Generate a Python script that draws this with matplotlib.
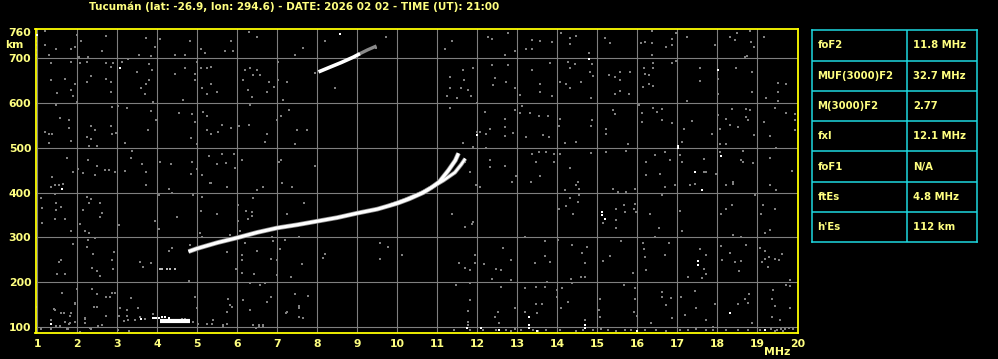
#!/usr/bin/env python3
"""Ionogram, Tucuman 2026-02-02 21:00 UT, with the scaled parameters table."""

import matplotlib
matplotlib.use("Agg")
import matplotlib.pyplot as plt
import numpy as np

TITLE = "Tucumán (lat: -26.9, lon: 294.6) - DATE: 2026 02 02 - TIME (UT): 21:00"

# scaled parameters
param_names = ["foF2", "MUF(3000)F2", "M(3000)F2", "fxI", "foF1", "ftEs", "h'Es"]
param_values = ["11.8 MHz", "32.7 MHz", "2.77", "12.1 MHz", "N/A", "4.8 MHz", "112 km"]

# axes ticks
freq_ticks = list(range(1, 21))
height_ticks = [100, 200, 300, 400, 500, 600, 700, 760]

# F2 ordinary trace (MHz, km)
f2o_f = [4.78, 5.0, 5.5, 6.0, 6.5, 7.0, 7.5, 8.0, 8.5, 9.0, 9.5, 10.0, 10.3, 10.65,
         10.85, 11.05, 11.28, 11.45, 11.53]
f2o_h = [268, 275, 288, 299, 311, 321, 328, 336, 344, 354, 363, 376, 386, 400,
         411, 424, 450, 472, 488]
# F2 extraordinary trace
f2x_f = [9.8, 10.2, 10.6, 10.9, 11.15, 11.44, 11.6, 11.7]
f2x_h = [371, 384, 399, 414, 427, 445, 463, 476]
# second hop
f2m_f = [8.03, 8.3, 8.6, 8.9, 9.07]
f2m_h = [670, 680, 691, 703, 711]
f2m_tail_f = [9.07, 9.25, 9.48]
f2m_tail_h = [711, 719, 728]
# sporadic E
es_f = [4.07, 4.81]
es_h = [113, 113]
es_dots_f = [3.95, 4.05, 4.12, 4.2, 4.3]
es_dots_h = [120, 120, 121, 121, 120]
es2_f = [4.07, 4.12, 4.25, 4.32, 4.45]
es2_h = [228, 228, 228, 228, 228]

# background noise, grey (MHz, km)
noise_grey = [
    (1.0, 740), (1.0, 730), (1.0, 718), (1.0, 707), (1.19, 762), (1.19, 730), (1.3, 707),
    (1.48, 721), (1.83, 722), (1.94, 726), (2.0, 752), (2.08, 740), (2.05, 704), (2.28, 704),
    (2.63, 717), (2.73, 750), (2.73, 690), (2.83, 680), (2.9, 690), (1.33, 689), (1.83, 693),
    (2.07, 691), (2.23, 693), (1.33, 652), (1.69, 655), (1.94, 644), (2.23, 648), (2.33, 661),
    (2.73, 655), (2.83, 648), (1.5, 622), (1.88, 617), (2.0, 603), (1.83, 630), (2.83, 625),
    (2.88, 592), (1.48, 595), (1.58, 566), (1.79, 562), (1.79, 545), (1.19, 536), (1.3, 532),
    (1.38, 531), (1.3, 511), (1.83, 516), (2.33, 549), (2.44, 540), (2.23, 525), (2.33, 521),
    (2.3, 504), (2.48, 504), (2.84, 549), (2.88, 532), (1.73, 478), (1.38, 434), (1.33, 413),
    (1.44, 417), (1.55, 417), (1.64, 420), (1.88, 446), (2.03, 452), (2.15, 443), (2.28, 473),
    (2.48, 459), (2.43, 439), (2.69, 450), (2.79, 451), (2.94, 446), (1.44, 396), (1.08, 388),
    (1.13, 365), (1.13, 333), (1.48, 377), (1.48, 362), (1.6, 368), (1.44, 340), (1.69, 340),
    (1.83, 314), (2.23, 390), (2.33, 385), (2.3, 376), (2.15, 360), (2.07, 330), (2.19, 314),
    (2.3, 310), (2.57, 346), (2.63, 355), (2.57, 377), (3.05, 327), (2.28, 294), (2.44, 298),
    (2.23, 278), (2.4, 263), (1.88, 285), (1.55, 245), (1.5, 219), (1.6, 249), (1.69, 217),
    (2.36, 232), (2.49, 225), (2.86, 249), (2.92, 267), (2.9, 228), (2.57, 213), (1.63, 176),
    (2.0, 185), (1.94, 151), (2.38, 185), (2.5, 174), (2.48, 143), (2.73, 167), (2.94, 176),
    (1.33, 116), (1.6, 130), (1.83, 130), (1.78, 107), (1.94, 111), (2.19, 118), (2.19, 109),
    (2.32, 96), (2.07, 89), (2.61, 103), (1.08, 94), (1.33, 94), (1.77, 94), (1.44, 137),
    (0.98, 144), (1.43, 139), (1.35, 115), (1.66, 130), (1.82, 125), (1.69, 111), (1.82, 108),
    (1.56, 101), (1.47, 101), (1.73, 94), (1.94, 152), (2.2, 119), (2.33, 94), (2.52, 101),
    (2.42, 143), (2.81, 167), (2.87, 176), (2.71, 124), (3.08, 141), (3.23, 137), (3.05, 124),
    (3.23, 124), (3.16, 112), (3.27, 115), (3.33, 165), (3.43, 115), (3.53, 141), (3.68, 117),
    (3.01, 93), (3.29, 90),
    (3.73, 746), (4.08, 743), (3.83, 706), (3.94, 726), (4.83, 740), (5.09, 721), (5.19, 713),
    (5.69, 717), (5.84, 740), (5.9, 717), (6.29, 760), (6.5, 749), (4.44, 707), (4.69, 707),
    (3.54, 707), (3.28, 699), (3.13, 693), (3.5, 670), (3.79, 687), (3.88, 674), (3.79, 651),
    (3.73, 642), (3.59, 634), (3.69, 620), (3.9, 603), (4.44, 665), (4.69, 679), (4.94, 665),
    (4.98, 693), (5.09, 678), (5.34, 682), (5.25, 678), (5.34, 644), (5.13, 634), (5.23, 620),
    (5.48, 625), (4.94, 651), (4.65, 607), (6.19, 674), (6.32, 678), (6.4, 664), (6.48, 674),
    (6.58, 664), (6.15, 651), (6.28, 629), (6.36, 614), (6.79, 648), (6.93, 637), (6.75, 625),
    (7.03, 693), (7.03, 651), (7.24, 648), (7.15, 607), (7.44, 707), (7.65, 724), (7.94, 668),
    (8.19, 740), (8.44, 634), (9.73, 747), (9.48, 724), (11.19, 721), (11.38, 740),
    (11.64, 674), (11.89, 679), (11.33, 659), (11.33, 634), (11.68, 651), (11.6, 634),
    (11.76, 629), (11.24, 616), (11.49, 611), (11.85, 616), (11.33, 589), (12.0, 601),
    (3.03, 594), (3.23, 589), (3.83, 582), (3.98, 562), (4.53, 579), (4.88, 575), (4.94, 559),
    (5.15, 580), (5.23, 571), (3.78, 539), (2.98, 534), (3.2, 510), (5.23, 539), (5.35, 530),
    (5.53, 535), (5.63, 552), (5.84, 544), (6.04, 549), (6.29, 552), (6.33, 595), (7.09, 571),
    (7.29, 584), (6.98, 562), (7.48, 539), (7.75, 539), (6.73, 530), (6.69, 513), (7.44, 508),
    (4.84, 522), (5.0, 508), (11.65, 511), (11.9, 501), (12.0, 535), (3.38, 494), (3.33, 477),
    (3.19, 449), (3.63, 464), (3.73, 445), (4.08, 468), (4.34, 464), (4.88, 468), (4.84, 442),
    (4.98, 453), (5.29, 481), (5.48, 464), (5.63, 487), (5.93, 487), (5.72, 466), (5.94, 454),
    (6.13, 472), (5.13, 440), (5.34, 422), (7.05, 468), (7.1, 472), (7.13, 422), (7.94, 460),
    (11.81, 447), (11.69, 468),
    (12.38, 743), (12.28, 749), (12.78, 758), (12.94, 717), (12.69, 707), (13.23, 722),
    (13.38, 741), (13.38, 721), (13.58, 739), (13.86, 736), (14.1, 758), (14.33, 745),
    (14.33, 733), (14.48, 751), (14.79, 713), (15.19, 746), (15.33, 734), (16.09, 734),
    (16.19, 736), (16.38, 762), (16.38, 734), (16.38, 707), (16.73, 726), (16.88, 730),
    (16.88, 743), (16.98, 756), (17.25, 749), (17.94, 730), (18.33, 749), (18.44, 741),
    (18.49, 758), (18.69, 704), (18.74, 706), (18.85, 737), (18.93, 726), (19.18, 749),
    (18.83, 762), (12.38, 685), (12.78, 685), (12.44, 657), (12.4, 640), (12.73, 648),
    (12.94, 634), (13.08, 618), (13.36, 674), (13.58, 644), (13.83, 690), (13.58, 625),
    (13.88, 616), (14.28, 693), (14.32, 678), (14.44, 687), (14.07, 648), (14.23, 642),
    (14.32, 634), (14.6, 648), (14.86, 687), (14.82, 670), (14.9, 661), (14.84, 612),
    (15.29, 664), (15.44, 659), (15.58, 670), (15.58, 651), (15.44, 620), (15.58, 627),
    (15.83, 670), (15.79, 620), (16.18, 678), (16.19, 666), (16.4, 689), (16.4, 678),
    (16.3, 664), (16.3, 642), (16.15, 636), (16.4, 638), (16.88, 689), (16.98, 694),
    (17.58, 679), (17.58, 649), (17.25, 606), (18.03, 654), (18.03, 621), (18.48, 679),
    (18.88, 670), (18.88, 625), (19.23, 612), (19.53, 645), (19.73, 642), (19.53, 625),
    (19.53, 606), (12.19, 580), (12.07, 535), (12.23, 530), (12.33, 543), (12.69, 565),
    (12.69, 547), (12.69, 526), (12.94, 584), (12.9, 534), (13.07, 577), (13.13, 593),
    (13.23, 524), (13.33, 578), (13.55, 571), (13.65, 528), (13.78, 572), (13.79, 524),
    (14.05, 550), (14.07, 565), (14.2, 511), (14.48, 514), (14.84, 550), (14.88, 562),
    (15.23, 543), (15.23, 532), (15.39, 584), (15.44, 575), (15.78, 509), (16.04, 597),
    (16.13, 579), (16.4, 589), (16.5, 580), (16.63, 588), (16.13, 559), (16.63, 562),
    (16.88, 556), (17.17, 543), (17.38, 560), (17.13, 514), (17.88, 532), (18.03, 574),
    (18.23, 565), (18.33, 552), (18.08, 543), (18.38, 588), (18.53, 547), (18.73, 588),
    (18.73, 569), (18.83, 584), (18.78, 562), (18.93, 528), (19.18, 558), (19.33, 526),
    (19.44, 589), (19.73, 579), (19.94, 575), (19.94, 562), (19.94, 541), (18.07, 509),
    (18.23, 509), (12.23, 499), (12.33, 472), (12.33, 457), (12.69, 459), (12.97, 438),
    (13.38, 487), (13.55, 490), (13.73, 490), (13.48, 468), (13.57, 438), (13.92, 468),
    (13.92, 487), (14.08, 487), (14.33, 455), (14.53, 423), (14.84, 489), (15.23, 490),
    (15.73, 492), (16.23, 468), (16.23, 440), (16.44, 483), (16.69, 490), (16.83, 472),
    (16.57, 442), (17.07, 483), (17.13, 468), (17.67, 445), (17.73, 445), (17.68, 475),
    (18.07, 490), (17.98, 442), (18.65, 494), (18.6, 472), (18.65, 468), (18.9, 466),
    (19.32, 477), (19.48, 499), (19.88, 449), (18.4, 423),
    (12.07, 413), (12.86, 424), (13.34, 424), (14.19, 405), (14.48, 416), (14.54, 409),
    (14.54, 394), (14.53, 379), (14.33, 387), (14.22, 369), (14.4, 353), (14.04, 364),
    (15.15, 332), (15.48, 364), (15.48, 338), (15.48, 320), (15.67, 372), (15.69, 357),
    (15.4, 407), (15.52, 402), (15.73, 402), (15.94, 407), (15.92, 364), (15.97, 357),
    (15.94, 375), (16.63, 394), (16.69, 413), (16.94, 416), (17.33, 416), (17.44, 420),
    (17.08, 358), (16.33, 353), (16.55, 320), (16.44, 301), (17.13, 314), (18.23, 416),
    (18.4, 420), (18.37, 372), (18.23, 364), (18.1, 353), (18.94, 394), (19.15, 372),
    (19.09, 353), (19.44, 364), (19.48, 405), (19.33, 416), (19.19, 310), (19.32, 317),
    (18.4, 305), (18.6, 301), (12.64, 275), (12.84, 249), (12.6, 227), (12.46, 228),
    (12.16, 241), (12.36, 206), (12.84, 204), (13.19, 301), (13.44, 243), (13.69, 258),
    (13.83, 245), (13.69, 291), (13.74, 200), (14.03, 294), (14.37, 282), (14.63, 264),
    (14.69, 243), (14.69, 212), (14.6, 212), (14.34, 206), (14.38, 198), (14.74, 279),
    (15.32, 258), (15.14, 247), (15.59, 291), (15.89, 221), (16.14, 288), (16.18, 273),
    (16.19, 256), (16.23, 226), (16.69, 260), (16.79, 288), (17.58, 273), (17.71, 260),
    (17.67, 230), (17.71, 219), (17.63, 208), (17.27, 212), (18.09, 280), (18.13, 250),
    (18.33, 265), (18.44, 245), (18.54, 225), (18.59, 247), (18.73, 282), (19.08, 275),
    (19.19, 269), (19.19, 251), (19.29, 256), (19.44, 251), (19.54, 249), (19.63, 262),
    (19.13, 244), (19.28, 234), (19.83, 204), (12.59, 188), (13.19, 186), (13.48, 188),
    (13.48, 150), (13.69, 189), (14.0, 182), (14.13, 186), (14.28, 156), (14.1, 141),
    (13.99, 167), (13.63, 150), (13.5, 130), (13.19, 133), (12.94, 142), (12.53, 133),
    (12.44, 121), (12.54, 108), (14.69, 115), (15.08, 163), (15.04, 138), (15.08, 122),
    (15.66, 193), (15.94, 186), (15.94, 163), (15.91, 133), (15.99, 124), (16.35, 109),
    (16.62, 178), (16.62, 167), (16.85, 165), (16.73, 148), (16.88, 119), (17.19, 126),
    (17.09, 167), (17.44, 180), (17.47, 141), (17.73, 116), (17.94, 150), (17.9, 100),
    (18.53, 150), (18.69, 163), (18.79, 174), (18.77, 152), (18.88, 109), (19.4, 182),
    (19.38, 163), (19.44, 146), (19.38, 122), (19.73, 193), (19.83, 191), (19.83, 142),
    (19.57, 115),
    (12.15, 93), (12.48, 92), (12.73, 93), (12.85, 91), (12.94, 94), (13.1, 92), (13.4, 93),
    (13.52, 91), (13.73, 92), (14.07, 93), (14.48, 91), (14.65, 93), (14.9, 92), (15.1, 94),
    (15.27, 92), (15.48, 91), (15.69, 93), (15.85, 92), (16.19, 93), (16.48, 92), (16.73, 91),
    (17.07, 93), (17.27, 92), (17.48, 94), (17.73, 92), (17.9, 93), (18.23, 92), (18.52, 93),
    (18.77, 92), (19.07, 93), (19.35, 94), (19.5, 93), (19.6, 95), (19.7, 94), (19.8, 96),
    (19.9, 95), (19.45, 91), (19.65, 91),
    (3.73, 416), (4.29, 407), (4.9, 394), (5.13, 390), (5.33, 422), (5.73, 413), (6.48, 405),
    (6.65, 413), (7.13, 422), (7.38, 413), (4.03, 394), (4.38, 398), (4.48, 346), (3.94, 337),
    (4.03, 318), (5.09, 359), (5.48, 351), (6.03, 372), (6.23, 359), (6.38, 356), (6.38, 348),
    (6.4, 387), (6.03, 337), (6.28, 340), (7.23, 351), (7.68, 377), (5.08, 310), (5.13, 301),
    (5.82, 306), (6.08, 314), (6.19, 288), (6.42, 310), (6.88, 301), (6.9, 292), (7.19, 295),
    (7.54, 300), (4.38, 275), (4.28, 270), (4.83, 282), (5.73, 266), (6.13, 260), (6.48, 270),
    (6.13, 249), (6.84, 251), (6.98, 249), (7.08, 273), (5.96, 228), (6.43, 218), (6.11, 221),
    (6.98, 215), (7.34, 212), (7.63, 241), (8.19, 262), (8.13, 253), (9.58, 288), (9.78, 279),
    (10.13, 260), (9.58, 251), (3.57, 245), (3.83, 243), (3.65, 234), (4.78, 202),
    (4.94, 167), (4.98, 141), (5.78, 163), (5.83, 148), (5.88, 145), (5.73, 133), (6.15, 160),
    (6.33, 197), (6.58, 193), (6.69, 197), (6.84, 167), (6.73, 156), (6.33, 137), (7.22, 130),
    (7.44, 174), (7.55, 141), (7.78, 168), (5.4, 115), (5.03, 107), (5.65, 100), (5.73, 107),
    (6.53, 101), (6.65, 101), (6.47, 98), (7.65, 119), (11.38, 351), (11.69, 323),
    (11.86, 330), (11.9, 334), (11.94, 243), (11.82, 227), (11.55, 243), (11.69, 232),
    (11.94, 260), (11.48, 193), (11.81, 197), (11.83, 160), (11.78, 136), (11.78, 104),
    (11.78, 110), (11.42, 92), (11.82, 92), (11.98, 416), (4.89, 110), (5.23, 105),
    (5.37, 106), (5.65, 104), (6.4, 104), (6.55, 104), (6.65, 104), (7.23, 132), (7.54, 147),
    (7.54, 121), (3.9, 128), (3.57, 121), (4.61, 118), (4.7, 118),
]
# background noise, white
noise_white = [
    (1.0, 752), (3.08, 679), (8.58, 755), (14.79, 698), (18.03, 675), (17.03, 505),
    (17.03, 499), (18.09, 481), (17.44, 445), (12.0, 528), (1.63, 407), (1.33, 107),
    (15.11, 357), (15.11, 350), (15.19, 340), (17.63, 405), (17.53, 247), (17.53, 238),
    (13.29, 122), (13.29, 103), (13.29, 97), (12.55, 93), (14.69, 96), (14.69, 103),
    (15.99, 91), (18.33, 130), (19.2, 92), (13.5, 90), (11.74, 96), (12.1, 96), (1.35, 106),
    (3.6, 117), (3.9, 119), (3.97, 119),
]

BG = "black"
YELLOW = "#ffff00"
LABEL = "#ffff80"
GRID = "#7f7f7f"
CYAN = "#1ed8e0"
W, H = 998, 359

plt.rcParams["font.family"] = ["DejaVu Sans"]
plt.rcParams["font.weight"] = "bold"

fig = plt.figure(figsize=(W / 100, H / 100), dpi=100, facecolor=BG)


def px(x, y):
    """pixel position from top-left -> figure fraction"""
    return x / W, 1 - y / H


# --- ionogram panel -------------------------------------------------------
x0, y1 = px(35.5, 29.3)
x1, y0 = px(798.3, 333.0)
ax = fig.add_axes([x0, y0, x1 - x0, y1 - y0], facecolor=BG)
ax.set_xlim(0.955, 20.025)
ax.set_ylim(85.9, 765.3)

for f in freq_ticks[:-1]:
    ax.axvline(f, color=GRID, lw=0.8, zorder=1)
for h in height_ticks[:-1]:
    ax.axhline(h, color=GRID, lw=0.8, zorder=1)

ng = np.array(noise_grey)
nw = np.array(noise_white)
ax.scatter(ng[:, 0], ng[:, 1], marker="s", s=4.2, color="#808080", linewidths=0, zorder=2)

ax.plot(f2o_f, f2o_h, color="#909090", lw=3.4, solid_capstyle="butt", zorder=3)
ax.plot(f2x_f, f2x_h, color="#909090", lw=3.0, solid_capstyle="butt", zorder=3)
ax.plot(f2o_f, f2o_h, color="white", lw=2.3, solid_capstyle="butt", zorder=4)
ax.plot(f2x_f, f2x_h, color="white", lw=1.8, solid_capstyle="butt", zorder=4)
ax.plot(f2m_tail_f, f2m_tail_h, color="#8a8a8a", lw=2.4, solid_capstyle="butt", zorder=3)
ax.plot(f2m_f, f2m_h, color="white", lw=2.6, solid_capstyle="butt", zorder=4)
ax.plot(es_f, es_h, color="white", lw=3.0, solid_capstyle="butt", zorder=4)
ax.scatter(es_dots_f, es_dots_h, marker="s", s=4.5, color="white", linewidths=0, zorder=4)
ax.scatter(es2_f, es2_h, marker="s", s=4.0, color="#bbbbbb", linewidths=0, zorder=4)
ax.scatter(nw[:, 0], nw[:, 1], marker="s", s=4.5, color="white", linewidths=0, zorder=4)

ax.set_xticks(freq_ticks)
ax.set_xticklabels([str(f) for f in freq_ticks])
ax.set_yticks(height_ticks)
ax.set_yticklabels([str(h) for h in height_ticks])
ax.tick_params(axis="both", length=0, colors=LABEL, labelsize=7.8)
ax.tick_params(axis="x", pad=4.3)
ax.tick_params(axis="y", pad=3.0)
for lab in ax.get_xticklabels() + ax.get_yticklabels():
    lab.set_fontweight("bold")
for sp in ax.spines.values():
    sp.set_color(YELLOW)
    sp.set_linewidth(1.3)

fig.text(*px(14, 45), "km", color=LABEL, fontsize=7.8, fontweight="bold",
         ha="center", va="center")
fig.text(*px(777.5, 352), "MHz", color=LABEL, fontsize=7.8, fontweight="bold",
         ha="center", va="center")
fig.text(*px(294.5, 7), TITLE, color=LABEL, fontsize=7.45, fontweight="bold",
         ha="center", va="center")

# --- parameters table -----------------------------------------------------
tx0, ty1 = px(812.3, 30.3)
tx1, ty0 = px(977.3, 242.3)
tab = fig.add_axes([tx0, ty0, tx1 - tx0, ty1 - ty0], facecolor=BG)
n = len(param_names)
tab.set_xlim(0, 165)
tab.set_ylim(n, 0)
tab.set_xticks([])
tab.set_yticks([])
for sp in tab.spines.values():
    sp.set_color(CYAN)
    sp.set_linewidth(1.1)
tab.axvline(95, color=CYAN, lw=1.1)
for i in range(1, n):
    tab.axhline(i, color=CYAN, lw=1.1)
for i, (name, val) in enumerate(zip(param_names, param_values)):
    tab.text(5, i + 0.5, name, color=LABEL, fontsize=7.3, fontweight="bold",
             ha="left", va="center")
    tab.text(100.5, i + 0.5, val, color=LABEL, fontsize=7.3, fontweight="bold",
             ha="left", va="center")

fig.savefig("out.png", dpi=100, facecolor=BG)
